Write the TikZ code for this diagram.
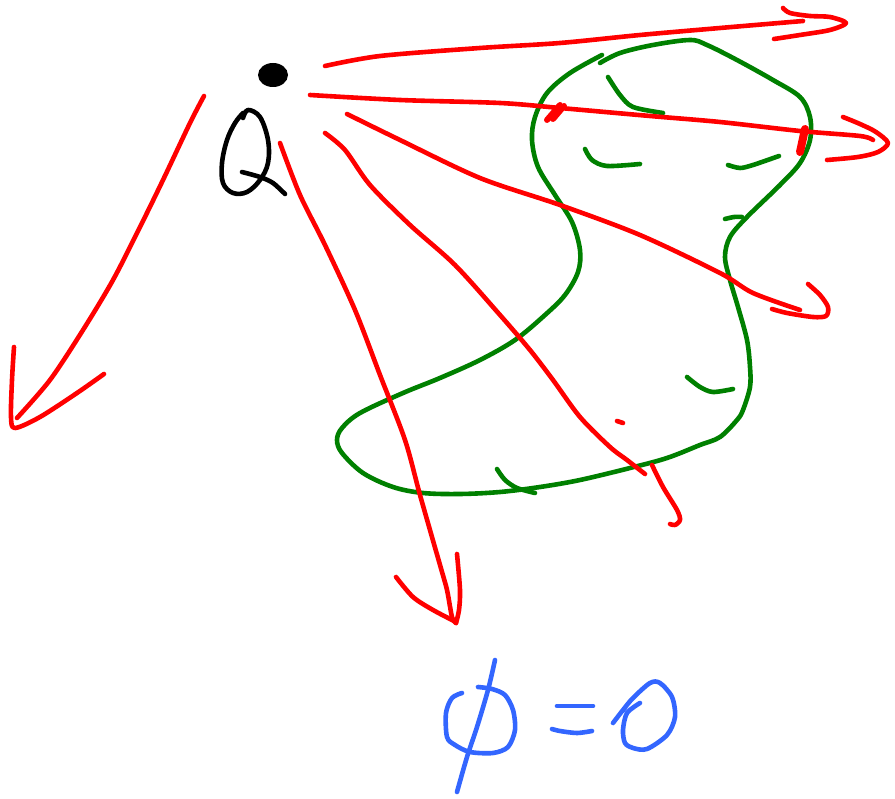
\documentclass[tikz,border=0pt]{standalone}
\definecolor{penred}{RGB}{255,0,0}
\definecolor{pengreen}{RGB}{0,128,0}
\definecolor{penblue}{RGB}{51,102,255}
\tikzset{
  ink/.style={line width=4.6pt, line cap=round, line join=round},
  redink/.style={ink, draw=penred},
  greenink/.style={ink, draw=pengreen},
  blueink/.style={ink, draw=penblue},
  blackink/.style={ink, draw=black},
}
\begin{document}
\begin{tikzpicture}[x=1pt,y=-1pt]
\useasboundingbox[fill=white] (0,0) rectangle (895,799);

% ---------- green shape ----------
\draw[greenink] plot[smooth, tension=0.55] coordinates {
 (600,63) (620,53) (653,45) (690,40) (707,45) (737,60) (773,80) (800,97) (810,117) (810,140) (800,163)
 (780,185) (747,217) (730,237) (725,257) (730,280) (738,307) (747,340) (750,367) (750,387) (743,410) (737,420)
 (720,437) (700,445) (667,458) (630,468) (580,480) (540,487) (500,492) (460,494) (423,493) (393,487)
 (363,473) (342,453) (337,440) (342,428) (360,413) (403,393) (440,378) (480,360) (515,340) (545,315)
 (565,295) (578,272) (580,250) (572,222) (555,195) (538,167) (532,140) (535,117) (547,93) (570,73) (602,55)};
\draw[greenink] plot[smooth] coordinates {(725,219) (734,217) (742,217)};
\draw[greenink] plot[smooth] coordinates {(608,77) (620,95) (633,107) (663,113)};
\draw[greenink] plot[smooth] coordinates {(585,149) (592,160) (607,166) (640,164)};
\draw[greenink] plot[smooth] coordinates {(728,165) (740,168) (753,165) (779,156)};
\draw[greenink] plot[smooth] coordinates {(687,377) (700,387) (713,392) (733,389)};
\draw[greenink] plot[smooth] coordinates {(497,469) (505,480) (517,488) (535,493)};

% ---------- red arrows ----------
% top
\draw[redink] plot[smooth] coordinates {(325,66) (380,56) (480,48) (560,43) (640,35) (720,28) (803,21)};
\draw[redink] plot[smooth] coordinates {(783,8) (790,13) (810,16) (830,17) (846,23) (830,30) (800,35) (774,39)};
% second
\draw[redink] plot[smooth] coordinates {(310,95) (400,100) (500,103) (560,108) (650,116) (720,122) (800,131) (860,136) (873,140)};
\draw[redink] plot[smooth] coordinates {(843,117) (860,124) (876,132) (888,143) (878,152) (858,157) (827,160)};
\draw[redink, line width=6pt] (547,120) -- (560,105);
\draw[redink, line width=6pt] (553,119) -- (564,106);
\draw[redink, line width=8pt] (805,129) -- (800,152);
% left arrow
\draw[redink] plot[smooth] coordinates {(204,96) (190,123) (163,180) (140,227) (113,280) (83,330) (50,380) (17,418)};
\draw[redink] plot[smooth] coordinates {(14,347) (12,380) (11,417) (15,428) (40,417) (77,393) (104,374)};
% down arrow
\draw[redink] plot[smooth] coordinates {(280,143) (300,195) (325,245) (355,310) (380,375) (405,440) (420,495) (440,565) (447,590) (452,617) (456,623)};
\draw[redink] plot[smooth] coordinates {(457,554) (460,590) (459,610) (456,623)};
\draw[redink] plot[smooth] coordinates {(396,577) (413,597) (433,610) (456,622)};
% diagonal
\draw[redink] plot[smooth] coordinates {(325,133) (345,150) (370,185) (410,225) (455,265) (500,315) (530,350) (553,380) (580,417) (610,447) (627,460) (645,474)};
\draw[redink] plot[smooth] coordinates {(652,465) (663,487) (677,510) (680,520) (675,525) (670,524)};
\draw[redink] (617,421) -- (623,423);
% right-down
\draw[redink] plot[smooth] coordinates {(347,114) (400,140) (480,178) (560,205) (640,235) (720,273) (753,293) (800,310)};
\draw[redink] plot[smooth] coordinates {(808,284) (820,295) (828,307) (826,316) (813,317) (787,313) (772,309)};

% ---------- charge Q ----------
\fill[black] (273,75) ellipse [x radius=15, y radius=12];
\draw[blackink] plot[smooth, tension=0.6] coordinates {(243,118) (248,110) (260,117) (268,140) (268,163) (260,180) (247,192) (233,193) (223,183) (222,163) (227,140) (235,123) (243,113)};
\draw[blackink] plot[smooth] coordinates {(242,172) (260,177) (273,183) (285,194)};

% ---------- phi = 0 ----------
\draw[blueink] plot[smooth] coordinates {(462,693) (452,698) (446,713) (447,737) (455,745) (470,752) (493,753) (508,747) (515,730) (513,710) (505,695) (492,689) (478,687)};
\draw[blueink] plot[smooth] coordinates {(495,660) (488,690) (477,727) (467,757) (457,792)};
\draw[blueink] (557,706) -- (593,706);
\draw[blueink] plot[smooth] coordinates {(552,729) (560,731) (577,733) (592,731)};
\draw[blueink] plot[smooth] coordinates {(613,723) (623,710) (633,698) (650,683) (660,683) (672,697) (675,717) (667,735) (647,749) (633,748) (625,743) (623,730) (627,713) (640,703)};
\end{tikzpicture}
\end{document}
